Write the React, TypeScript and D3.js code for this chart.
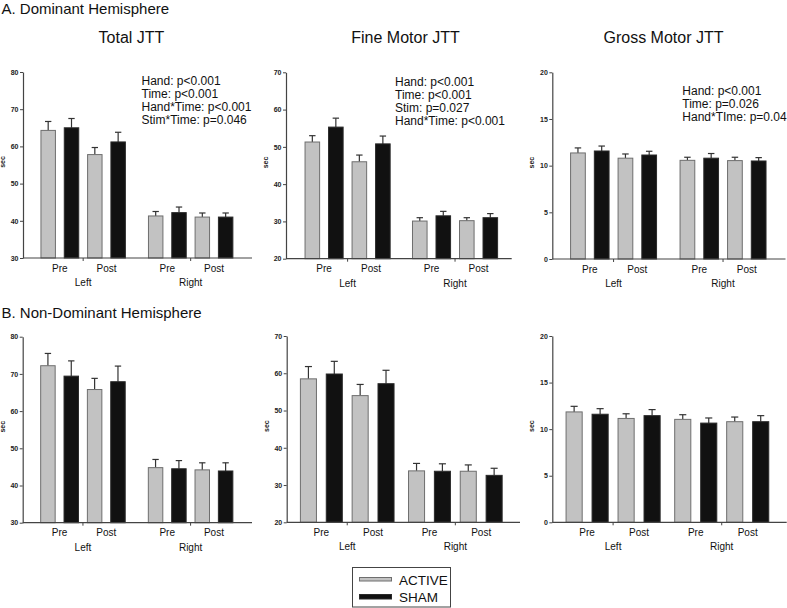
import React, { useEffect, useRef } from "react";
import * as d3 from "d3";

// x categories
const times = ["Pre", "Post", "Pre", "Post"];
const hands = ["Left", "Right"];
const groups = ["ACTIVE", "SHAM"];

// A. Dominant hemisphere
const totalDomActive = [64.3, 57.8, 41.3, 41.0];
const totalDomActiveErr = [2.4, 1.9, 1.2, 1.1];
const totalDomSham = [65.0, 61.2, 42.2, 41.0];
const totalDomShamErr = [2.5, 2.6, 1.5, 1.1];

const fineDomActive = [51.3, 46.0, 30.1, 30.2];
const fineDomActiveErr = [1.7, 1.8, 0.9, 0.8];
const fineDomSham = [55.3, 50.8, 31.5, 31.0];
const fineDomShamErr = [2.4, 2.1, 1.2, 1.1];

const grossDomActive = [11.36, 10.8, 10.57, 10.54];
const grossDomActiveErr = [0.54, 0.45, 0.33, 0.36];
const grossDomSham = [11.57, 11.14, 10.8, 10.5];
const grossDomShamErr = [0.53, 0.4, 0.5, 0.36];

// B. Non-dominant hemisphere
const totalNonActive = [72.2, 65.8, 44.8, 44.2];
const totalNonActiveErr = [3.3, 3.0, 2.2, 1.9];
const totalNonSham = [69.4, 67.9, 44.5, 43.9];
const totalNonShamErr = [4.1, 4.2, 2.2, 2.2];

const fineNonActive = [58.5, 54.0, 33.8, 33.7];
const fineNonActiveErr = [3.3, 3.0, 2.0, 1.7];
const fineNonSham = [59.8, 57.2, 33.7, 32.6];
const fineNonShamErr = [3.4, 3.6, 2.0, 1.9];

const grossNonActive = [11.85, 11.15, 11.05, 10.8];
const grossNonActiveErr = [0.6, 0.5, 0.5, 0.5];
const grossNonSham = [11.6, 11.45, 10.65, 10.8];
const grossNonShamErr = [0.6, 0.65, 0.55, 0.65];

// y axes
const totalTicks = [30, 40, 50, 60, 70, 80];
const fineTicks = [20, 30, 40, 50, 60, 70];
const grossTicks = [0, 5, 10, 15, 20];

const totalDomStats = ["Hand: p<0.001", "Time: p<0.001", "Hand*Time: p<0.001", "Stim*Time: p=0.046"];
const fineDomStats = ["Hand: p<0.001", "Time: p<0.001", "Stim: p=0.027", "Hand*Time: p<0.001"];
const grossDomStats = ["Hand: p<0.001", "Time: p=0.026", "Hand*TIme: p=0.04"];

const FONT = "'Liberation Sans', Arial, sans-serif";
const GREY = "#c2c2c2";
const BLACK = "#111111";

// slot layouts: a = offset before first bar, g = gap between hand groups, b = space after last bar
const wideLayout = { a: 1.08, g: 1.61, b: 1.13 };
const midLayout = { a: 1.12, g: 1.57, b: 0.91 };
const looseLayout = { a: 0.84, g: 1.18, b: 1.0 };

const panels = [
  { title: "Total JTT", titleX: 131.5, active: totalDomActive, activeErr: totalDomActiveErr, sham: totalDomSham, shamErr: totalDomShamErr,
    ticks: totalTicks, x0: 23, x1: 252, yTop: 72, yBottom: 258, layout: wideLayout, stats: totalDomStats, statsX: 141.5, statsY: 85 },
  { title: "Fine Motor JTT", titleX: 405.5, active: fineDomActive, activeErr: fineDomActiveErr, sham: fineDomSham, shamErr: fineDomShamErr,
    ticks: fineTicks, x0: 286, x1: 511.7, yTop: 72.3, yBottom: 258.7, layout: midLayout, stats: fineDomStats, statsX: 395, statsY: 86 },
  { title: "Gross Motor JTT", titleX: 663.5, active: grossDomActive, activeErr: grossDomActiveErr, sham: grossDomSham, shamErr: grossDomShamErr,
    ticks: grossTicks, x0: 552.3, x1: 785.5, yTop: 72.3, yBottom: 259, layout: wideLayout, stats: grossDomStats, statsX: 682.3, statsY: 95 },
  { title: "", titleX: 0, active: totalNonActive, activeErr: totalNonActiveErr, sham: totalNonSham, shamErr: totalNonShamErr,
    ticks: totalTicks, x0: 22.7, x1: 252, yTop: 336.7, yBottom: 522.7, layout: wideLayout, stats: [], statsX: 0, statsY: 0 },
  { title: "", titleX: 0, active: fineNonActive, activeErr: fineNonActiveErr, sham: fineNonSham, shamErr: fineNonShamErr,
    ticks: fineTicks, x0: 286.7, x1: 520, yTop: 336, yBottom: 522.3, layout: looseLayout, stats: [], statsX: 0, statsY: 0 },
  { title: "", titleX: 0, active: grossNonActive, activeErr: grossNonActiveErr, sham: grossNonSham, shamErr: grossNonShamErr,
    ticks: grossTicks, x0: 552.3, x1: 786.7, yTop: 336, yBottom: 522.3, layout: looseLayout, stats: [], statsX: 0, statsY: 0 },
];

function drawPanel(svg: any, p: any) {
  const { a, g, b } = p.layout;
  const total = a + 6 + g + b;
  const x = d3.scaleLinear().domain([0, total]).range([p.x0, p.x1]);
  const y = d3
    .scaleLinear()
    .domain([p.ticks[0], p.ticks[p.ticks.length - 1]])
    .range([p.yBottom, p.yTop]);
  const slot = x(1) - x(0);
  const bw = slot * 0.62;
  const pos = (t: number, k: number) => a + 2 * t + k + (t >= 2 ? g - 1 : 0);

  const gp = svg.append("g");

  const bars: any[] = [];
  times.forEach((_, t) => {
    bars.push({ t, k: 0, v: p.active[t], e: p.activeErr[t] });
    bars.push({ t, k: 1, v: p.sham[t], e: p.shamErr[t] });
  });

  // error bars (upper only)
  const err = gp.selectAll(".err").data(bars).enter().append("g").attr("class", "err");
  err
    .append("line")
    .attr("x1", (d: any) => x(pos(d.t, d.k)))
    .attr("x2", (d: any) => x(pos(d.t, d.k)))
    .attr("y1", (d: any) => y(d.v))
    .attr("y2", (d: any) => y(d.v + d.e))
    .attr("stroke", "#333")
    .attr("stroke-width", 1.2);
  err
    .append("line")
    .attr("x1", (d: any) => x(pos(d.t, d.k)) - bw * 0.22)
    .attr("x2", (d: any) => x(pos(d.t, d.k)) + bw * 0.22)
    .attr("y1", (d: any) => y(d.v + d.e))
    .attr("y2", (d: any) => y(d.v + d.e))
    .attr("stroke", "#333")
    .attr("stroke-width", 1.2);

  gp.selectAll(".bar")
    .data(bars)
    .enter()
    .append("rect")
    .attr("class", "bar")
    .attr("x", (d: any) => x(pos(d.t, d.k)) - bw / 2)
    .attr("width", bw)
    .attr("y", (d: any) => y(d.v))
    .attr("height", (d: any) => y(p.ticks[0]) - y(d.v))
    .attr("fill", (d: any) => (d.k === 0 ? GREY : BLACK))
    .attr("stroke", (d: any) => (d.k === 0 ? "#6e6e6e" : "#2a2a2a"))
    .attr("stroke-width", 1);

  // y axis
  const yAxis = d3.axisLeft(y).tickValues(p.ticks).tickSize(3).tickSizeOuter(0).tickPadding(1.5);
  const ya = gp.append("g").attr("transform", `translate(${p.x0},0)`).call(yAxis);
  ya.select(".domain").attr("stroke", "#444").attr("stroke-width", 1.2);
  ya.selectAll(".tick line").attr("stroke", "#444");
  ya.selectAll(".tick text")
    .attr("font-family", FONT)
    .attr("font-size", "7px")
    .attr("font-weight", "bold")
    .attr("fill", "#222");

  gp.append("text")
    .attr("transform", `translate(${p.x0 - 18},${(p.yTop + p.yBottom) / 2 - 3}) rotate(-90)`)
    .attr("text-anchor", "middle")
    .attr("font-family", FONT)
    .attr("font-size", "7px")
    .attr("font-weight", "bold")
    .attr("fill", "#222")
    .text("sec");

  // x axis
  gp.append("line")
    .attr("x1", p.x0)
    .attr("x2", p.x1)
    .attr("y1", p.yBottom)
    .attr("y2", p.yBottom)
    .attr("stroke", "#444")
    .attr("stroke-width", 1.2);

  hands.forEach((h, i) => {
    const start = i === 0 ? a : a + 3 + g;
    gp.append("line")
      .attr("x1", x(start + 1.5))
      .attr("x2", x(start + 1.5))
      .attr("y1", p.yBottom)
      .attr("y2", p.yBottom + 3)
      .attr("stroke", "#444");
    [0, 1].forEach((j) => {
      gp.append("text")
        .attr("x", x(start + 0.5 + 2 * j))
        .attr("y", p.yBottom + 13.5)
        .attr("text-anchor", "middle")
        .attr("font-family", FONT)
        .attr("font-size", "10px")
        .attr("fill", "#111")
        .text(times[i * 2 + j]);
    });
    gp.append("text")
      .attr("x", x(start + 1.5))
      .attr("y", p.yBottom + 28)
      .attr("text-anchor", "middle")
      .attr("font-family", FONT)
      .attr("font-size", "10px")
      .attr("fill", "#111")
      .text(h);
  });

  if (p.title) {
    gp.append("text")
      .attr("x", p.titleX)
      .attr("y", 43)
      .attr("text-anchor", "middle")
      .attr("font-family", FONT)
      .attr("font-size", "16px")
      .attr("fill", "#111")
      .text(p.title);
  }

  p.stats.forEach((s: string, i: number) => {
    gp.append("text")
      .attr("x", p.statsX)
      .attr("y", p.statsY + i * 13)
      .attr("font-family", FONT)
      .attr("font-size", "12px")
      .attr("fill", "#111")
      .text(s);
  });
}

export default function App() {
  const ref = useRef<SVGSVGElement>(null);

  useEffect(() => {
    const svg = d3.select(ref.current);
    svg.selectAll("*").remove();

    svg.append("rect").attr("width", 787).attr("height", 608).attr("fill", "#fff");

    svg.append("text")
      .attr("x", 1.5)
      .attr("y", 13.5)
      .attr("font-family", FONT)
      .attr("font-size", "15px")
      .attr("fill", "#111")
      .text("A. Dominant Hemisphere");
    svg.append("text")
      .attr("x", 1.5)
      .attr("y", 318)
      .attr("font-family", FONT)
      .attr("font-size", "15px")
      .attr("fill", "#111")
      .text("B. Non-Dominant Hemisphere");

    panels.forEach((p) => drawPanel(svg, p));

    // legend
    const lg = svg.append("g");
    lg.append("rect")
      .attr("x", 352.5)
      .attr("y", 567.5)
      .attr("width", 98)
      .attr("height", 39.5)
      .attr("fill", "#fff")
      .attr("stroke", "#444")
      .attr("stroke-width", 1);
    groups.forEach((gname, i) => {
      lg.append("rect")
        .attr("x", 359.5)
        .attr("y", i === 0 ? 577.5 : 594.5)
        .attr("width", 32)
        .attr("height", i === 0 ? 3.5 : 4.5)
        .attr("fill", i === 0 ? GREY : BLACK)
        .attr("stroke", i === 0 ? "#6e6e6e" : "#2a2a2a")
        .attr("stroke-width", 1);
      lg.append("text")
        .attr("x", 399)
        .attr("y", i === 0 ? 584.5 : 602)
        .attr("font-family", FONT)
        .attr("font-size", "13.5px")
        .attr("fill", "#111")
        .text(gname);
    });
  }, []);

  return (
    <svg
      ref={ref}
      width={787}
      height={608}
      style={{ position: "absolute", left: 0, top: 0, display: "block" }}
    ></svg>
  );
}
